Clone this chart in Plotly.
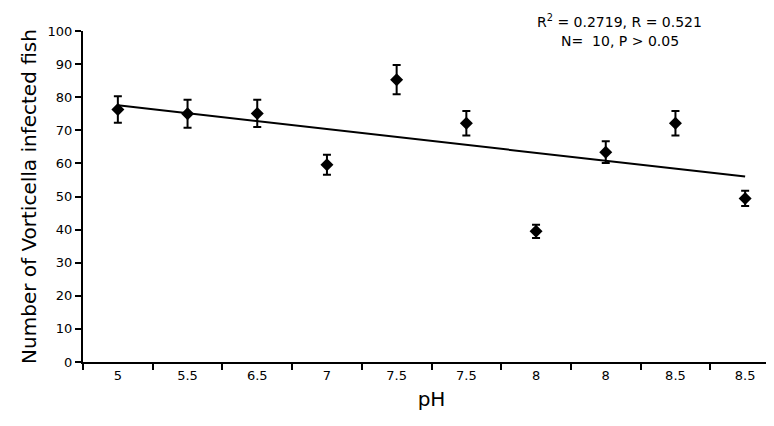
import numpy as np
import plotly.graph_objects as go

ph_labels = ["5", "5.5", "6.5", "7", "7.5", "7.5", "8", "8", "8.5", "8.5"]
infected = [76.3, 75.0, 75.1, 59.6, 85.3, 72.1, 39.5, 63.4, 72.1, 49.4]
err = [4.0, 4.2, 4.1, 3.0, 4.4, 3.7, 2.0, 3.3, 3.7, 2.3]

xpos = list(range(1, len(ph_labels) + 1))
slope, intercept = np.polyfit(xpos, infected, 1)
trend_x = [xpos[0], xpos[-1]]
trend_y = [intercept + slope * v for v in trend_x]

font = "DejaVu Sans, Liberation Sans, sans-serif"

fig = go.Figure()
fig.add_trace(go.Scatter(
    x=trend_x, y=trend_y, mode="lines",
    line=dict(color="black", width=2), showlegend=False, hoverinfo="skip"))
fig.add_trace(go.Scatter(
    x=xpos, y=infected, mode="markers",
    marker=dict(symbol="diamond", size=10, color="black"),
    error_y=dict(type="data", array=err, visible=True, color="black",
                 thickness=2, width=4),
    showlegend=False))

fig.add_annotation(
    x=0.77, y=1.0, xref="paper", yref="paper", xanchor="center", yanchor="middle",
    yshift=10, text="R<sup>2</sup> = 0.2719, R = 0.521",
    showarrow=False, font=dict(family=font, size=14, color="black"))
fig.add_annotation(
    x=0.77, y=1.0, xref="paper", yref="paper", xanchor="center", yanchor="middle",
    yshift=-10, text="N=  10, P > 0.05",
    showarrow=False, font=dict(family=font, size=14, color="black"))

fig.update_layout(
    width=774, height=426,
    margin=dict(l=75, r=2, t=23, b=72),
    paper_bgcolor="white", plot_bgcolor="white",
    font=dict(family=font, color="black"),
    xaxis=dict(
        range=[0.5, 10.5], tickmode="array", tickvals=xpos, ticktext=ph_labels,
        ticks="", showgrid=False, zeroline=False,
        showline=True, linecolor="black", linewidth=2,
        tickfont=dict(size=13, family=font),
        minor=dict(tickmode="linear", tick0=0.5, dtick=1, ticks="outside",
                   ticklen=6, tickwidth=2, tickcolor="black", showgrid=False),
        title=dict(text="pH", font=dict(size=20, family=font), standoff=10),
    ),
    yaxis=dict(
        range=[0, 100], tickmode="linear", tick0=0, dtick=10,
        ticks="outside", ticklen=6, tickwidth=2, tickcolor="black",
        showgrid=False, zeroline=False,
        showline=True, linecolor="black", linewidth=2,
        tickfont=dict(size=13, family=font),
        title=dict(text="Number of Vorticella infected fish",
                   font=dict(size=20, family=font), standoff=6),
    ),
)

fig.write_html("out.html")
